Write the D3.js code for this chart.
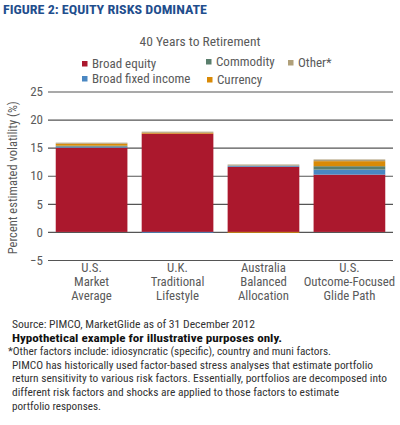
<!DOCTYPE html>
<html>
<head>
<meta charset="utf-8">
<script src="https://cdn.jsdelivr.net/npm/d3@7"></script>
<style>
  body { margin: 0; background: #fff; }
  svg text { font-family: "Liberation Sans Narrow", "Roboto Condensed", Roboto, sans-serif; }
</style>
</head>
<body>
<div id="chart"></div>
<script>
// categories and series (percent estimated volatility)
const categories = ["U.S.|Market|Average", "U.K.|Traditional|Lifestyle", "Australia|Balanced|Allocation", "U.S.|Outcome-Focused|Glide Path"];
const seriesNames = ["Broad equity", "Broad fixed income", "Commodity", "Currency", "Other*"];
const broadEquity = [15.0, 17.5, 11.6, 10.2];
const broadFixedIncome = [0.18, -0.15, 0.2, 0.9];
const commodity = [0.18, 0.0, 0.0, 0.6];
const currency = [0.35, 0.15, -0.15, 0.9];
const other = [0.18, 0.2, 0.2, 0.3];
const yTicks = [-5, 0, 5, 10, 15, 20, 25];
const colors = ["#AB182D", "#4A87C2", "#5A7E6C", "#D98A06", "#B0A07A"];

const footLines = [
    { t: "Source: PIMCO, MarketGlide as of 31 December 2012", bold: false, len: 243 },
    { t: "Hypothetical example for illustrative purposes only.", bold: true, len: 270 },
    { t: "*Other factors include: idiosyncratic (specific), country and muni factors.", bold: false, len: 323, x: 8 },
    { t: "PIMCO has historically used factor-based stress analyses that estimate portfolio", bold: false, len: 361 },
    { t: "return sensitivity to various risk factors. Essentially, portfolios are decomposed into", bold: false, len: 375 },
    { t: "different risk factors and shocks are applied to those factors to estimate", bold: false, len: 327 },
    { t: "portfolio responses.", bold: false, len: 89 }
];

const W = 400, H = 425;
const plot = { left: 48, right: 393, top: 91.5, bottom: 260 };
const textGrey = "#5a5a5a";

const svg = d3.select("#chart").append("svg")
    .attr("width", W).attr("height", H);

// title
svg.append("text")
    .attr("x", 3).attr("y", 14)
    .attr("font-size", 12.5).attr("font-weight", "bold")
    .attr("fill", "#1F4E8D")
    .attr("textLength", 204).attr("lengthAdjust", "spacingAndGlyphs")
    .text("FIGURE 2: EQUITY RISKS DOMINATE");

svg.append("text")
    .attr("x", 200).attr("y", 46)
    .attr("text-anchor", "middle")
    .attr("font-size", 13.5).attr("fill", textGrey)
    .text("40 Years to Retirement");

// scales
const x = d3.scaleBand()
    .domain(categories)
    .range([plot.left, plot.right])
    .paddingInner(0.166)
    .paddingOuter(0.09);

const y = d3.scaleLinear()
    .domain([-5, 25])
    .range([plot.bottom, plot.top]);

// gridlines + y ticks
const yAxis = svg.append("g")
    .attr("transform", `translate(${plot.left},0)`)
    .call(d3.axisLeft(y).tickValues(yTicks).tickSize(-(plot.right - plot.left)).tickPadding(5));
yAxis.select(".domain").remove();
yAxis.selectAll("line").attr("stroke", "#555").attr("stroke-width", 1.2);
yAxis.selectAll("text").attr("font-size", 13).attr("fill", textGrey)
    .style("font-family", "'Liberation Sans Narrow', 'Roboto Condensed', Roboto, sans-serif");

// y label
svg.append("text")
    .attr("transform", `translate(17,${(plot.top + plot.bottom) / 2 + 2}) rotate(-90)`)
    .attr("text-anchor", "middle")
    .attr("font-size", 12.5).attr("fill", textGrey)
    .text("Percent estimated volatility (%)");

// stacked data
const rows = categories.map((c, i) => ({
    cat: c,
    "Broad equity": broadEquity[i],
    "Broad fixed income": broadFixedIncome[i],
    "Commodity": commodity[i],
    "Currency": currency[i],
    "Other*": other[i]
}));

const stack = d3.stack().keys(seriesNames).offset(d3.stackOffsetDiverging);
const layers = stack(rows);

svg.append("g").selectAll("g")
    .data(layers)
    .enter().append("g")
    .attr("fill", (d, i) => colors[i])
    .selectAll("rect")
    .data(d => d)
    .enter().append("rect")
    .attr("x", d => x(d.data.cat))
    .attr("width", x.bandwidth())
    .attr("y", d => y(Math.max(d[0], d[1])))
    .attr("height", d => Math.abs(y(d[0]) - y(d[1])));

// x labels
const xl = svg.append("g");
categories.forEach(c => {
    c.split("|").forEach((line, j) => {
        xl.append("text")
            .attr("x", x(c) + x.bandwidth() / 2)
            .attr("y", 271.5 + j * 14)
            .attr("text-anchor", "middle")
            .attr("font-size", 12.8).attr("fill", textGrey)
            .text(line);
    });
});

// legend
const legendItems = [
    { name: "Broad equity", c: 0, x: 82, y: 61 },
    { name: "Broad fixed income", c: 1, x: 82, y: 76 },
    { name: "Commodity", c: 2, x: 206, y: 59 },
    { name: "Currency", c: 3, x: 207, y: 77 },
    { name: "Other*", c: 4, x: 288, y: 60 }
];
const lg = svg.append("g");
legendItems.forEach(d => {
    lg.append("rect").attr("x", d.x).attr("y", d.y).attr("width", 5.5).attr("height", 5.5)
        .attr("fill", colors[d.c]);
    lg.append("text").attr("x", d.x + 10).attr("y", d.y + 7)
        .attr("font-size", 13).attr("fill", textGrey).text(d.name);
});

// footer
footLines.forEach((d, i) => {
    svg.append("text")
        .attr("x", d.x || 12).attr("y", 328 + i * 13.6)
        .attr("font-size", 11)
        .attr("font-weight", d.bold ? "bold" : "normal")
        .attr("fill", d.bold ? "#111" : "#333")
        .attr("textLength", d.len).attr("lengthAdjust", "spacingAndGlyphs")
        .text(d.t);
});
</script>
</body>
</html>
